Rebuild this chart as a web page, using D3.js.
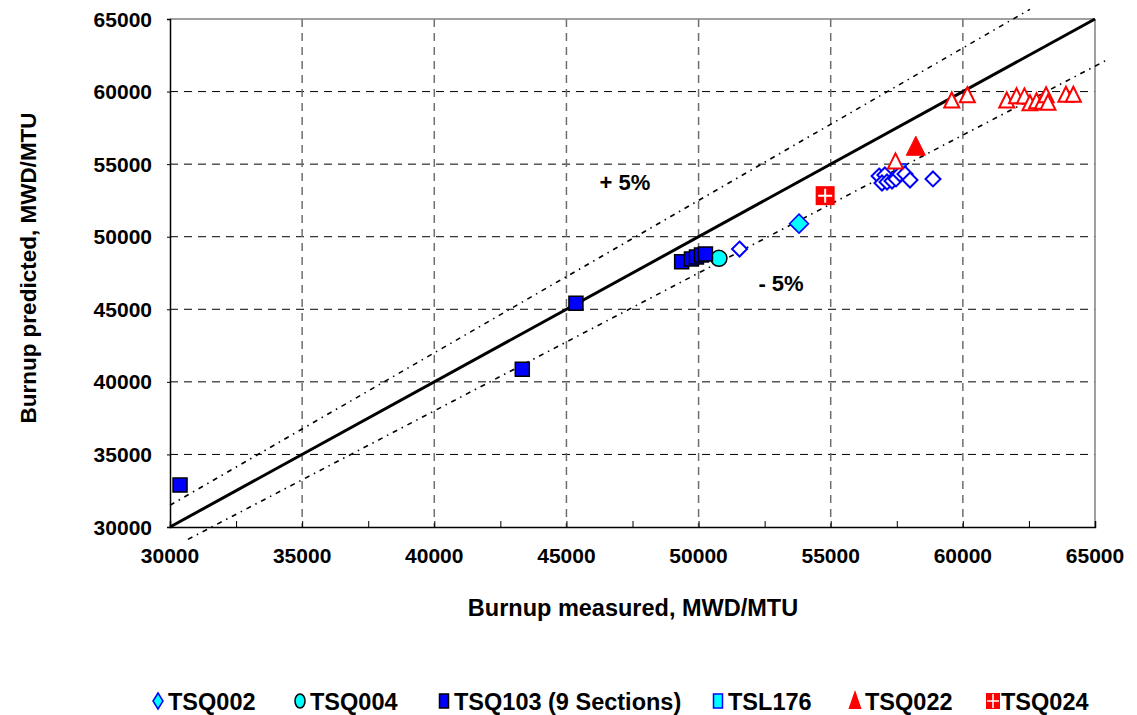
<!DOCTYPE html>
<html>
<head>
<meta charset="utf-8">
<script src="https://cdn.jsdelivr.net/npm/d3@7"></script>
<style>
  body { margin: 0; background: #fff; }
  text { font-family: "Liberation Sans", Arial, sans-serif; font-weight: bold; fill: #000; }
</style>
</head>
<body>
<svg id="chart" width="1137" height="715"></svg>
<script>
// Axis ticks (MWD/MTU)
const xTicks = [30000, 35000, 40000, 45000, 50000, 55000, 60000, 65000];
const yTicks = [30000, 35000, 40000, 45000, 50000, 55000, 60000, 65000];
const xMinorTicks = [32500, 37500, 42500, 47500, 52500, 57500, 62500];

// Measured vs predicted burnup, [measured, predicted]
const tsq002 = [[53800, 50900]];
const tsq002Hollow = [
  [51550, 49150], [56830, 54180], [57050, 54250], [56940, 53700], [57130, 53770],
  [57320, 53840], [57470, 53980], [57620, 54320], [57810, 54320], [58000, 53910],
  [58870, 53980]
];
const tsq004 = [[50770, 48510]];
const tsq103 = [
  [30380, 32890], [43330, 40870], [45360, 45410], [49360, 48280], [49730, 48470],
  [49920, 48600], [50110, 48740], [50260, 48810]
];
const tsl176 = [[57620, 54600]];
const tsq022 = [[58220, 56200]];
const tsq022Hollow = [
  [57450, 55170], [59580, 59370], [60170, 59730], [61660, 59370], [62030, 59660],
  [62330, 59650], [62540, 59180], [62790, 59320], [63010, 59280], [63150, 59730],
  [63220, 59210], [63900, 59760], [64180, 59760]
];
const tsq024 = [[54790, 52830]];

// Deviation bands around the 1:1 line
const bandPlus = { from: 30000, to: 62540, ratio: 1.05 };
const bandMinus = { from: 30680, to: 65450, ratio: 0.95 };

const legendNames = ["TSQ002", "TSQ004", "TSQ103 (9 Sections)", "TSL176", "TSQ022", "TSQ024"];

const svg = d3.select("#chart");
const plotL = 170, plotR = 1095, plotT = 19, plotB = 527;
const x = d3.scaleLinear().domain([30000, 65000]).range([plotL, plotR]);
const y = d3.scaleLinear().domain([30000, 65000]).range([plotB, plotT]);

// gridlines
svg.append("g").selectAll("line").data(yTicks.slice(1, -1)).join("line")
  .attr("x1", plotL).attr("x2", plotR).attr("y1", d => y(d)).attr("y2", d => y(d))
  .attr("stroke", "#000").attr("stroke-width", 1).attr("stroke-dasharray", "8,6");
svg.append("g").selectAll("line").data(xTicks.slice(1, -1)).join("line")
  .attr("y1", plotT).attr("y2", plotB).attr("x1", d => x(d)).attr("x2", d => x(d))
  .attr("stroke", "#6e6e6e").attr("stroke-width", 1.5).attr("stroke-dasharray", "8,6");

// frame: gray top/right, black axes
svg.append("line").attr("x1", plotL).attr("x2", plotR).attr("y1", plotT).attr("y2", plotT)
  .attr("stroke", "#808080").attr("stroke-width", 1.5);
svg.append("line").attr("x1", plotR).attr("x2", plotR).attr("y1", plotT).attr("y2", plotB)
  .attr("stroke", "#808080").attr("stroke-width", 1.5);

const xAxis = svg.append("g").attr("transform", `translate(0,${plotB})`)
  .call(d3.axisBottom(x).tickValues(xTicks.concat(xMinorTicks)).tickSize(-6).tickFormat(""));
xAxis.select(".domain").attr("stroke", "#000").attr("stroke-width", 1.5);
xAxis.selectAll(".tick line").attr("stroke", "#000");
const yAxis = svg.append("g").attr("transform", `translate(${plotL},0)`)
  .call(d3.axisLeft(y).tickValues(yTicks).tickSize(3).tickFormat(""));
yAxis.select(".domain").attr("stroke", "#000").attr("stroke-width", 1.5);
yAxis.selectAll(".tick line").attr("stroke", "#000");

// tick labels
svg.append("g").selectAll("text").data(xTicks).join("text")
  .attr("x", d => x(d)).attr("y", 563).attr("text-anchor", "middle")
  .style("font-size", "21px").text(d => d);
svg.append("g").selectAll("text").data(yTicks).join("text")
  .attr("x", 152).attr("y", d => y(d) + 7.5).attr("text-anchor", "end")
  .style("font-size", "21px").text(d => d);

// axis titles
svg.append("text").attr("x", 633).attr("y", 616).attr("text-anchor", "middle")
  .style("font-size", "23.5px").text("Burnup measured, MWD/MTU");
svg.append("text").attr("transform", "translate(36,268) rotate(-90)").attr("text-anchor", "middle")
  .style("font-size", "22.5px").text("Burnup predicted, MWD/MTU");

// 1:1 line and ±5% bands
svg.append("line").attr("x1", x(30000)).attr("y1", y(30000)).attr("x2", x(65000)).attr("y2", y(65000))
  .attr("stroke", "#000").attr("stroke-width", 3);
[bandPlus, bandMinus].forEach(b => {
  svg.append("line")
    .attr("x1", x(b.from)).attr("y1", y(b.from * b.ratio))
    .attr("x2", x(b.to)).attr("y2", y(b.to * b.ratio))
    .attr("stroke", "#000").attr("stroke-width", 1.6).attr("stroke-dasharray", "5,5,1.5,5");
});
svg.append("text").attr("x", 625).attr("y", 190).attr("text-anchor", "middle")
  .style("font-size", "22px").text("+ 5%");
svg.append("text").attr("x", 781).attr("y", 291).attr("text-anchor", "middle")
  .style("font-size", "22px").text("- 5%");

// marker shapes
const diamond = (r, ry) => `M0,${-(ry||r)}L${r},0L0,${ry||r}L${-r},0Z`;
const square = (w, h) => `M${-w/2},${-(h||w)/2}h${w}v${h||w}h${-w}Z`;
const triangle = (w, h) => `M0,${-h*0.55}L${w/2},${h*0.45}L${-w/2},${h*0.45}Z`;
const circle = (r, ry) => `M${-r},0A${r},${ry||r} 0 1,0 ${r},0A${r},${ry||r} 0 1,0 ${-r},0Z`;

function plot(data, path, fill, stroke, sw) {
  svg.append("g").selectAll("path").data(data).join("path")
    .attr("transform", d => `translate(${x(d[0])},${y(d[1])})`)
    .attr("d", path).attr("fill", fill).attr("stroke", stroke).attr("stroke-width", sw);
}

plot(tsl176, square(12), "#00ffff", "#0000ff", 1.5);
plot(tsq002Hollow, diamond(7.5), "#fff", "#0000ff", 2);
plot(tsq002, diamond(9.5), "#00ffff", "#0000ff", 1.5);
plot(tsq004, circle(8), "#00ffff", "#000", 1.5);
plot(tsq103, square(14), "#0000ff", "#000", 1.5);
plot(tsq022Hollow, triangle(15, 15), "#fff", "#ff0000", 2);
plot(tsq022, triangle(19, 19), "#ff0000", "#ff0000", 1);
const g24 = svg.append("g").selectAll("g").data(tsq024).join("g")
  .attr("transform", d => `translate(${x(d[0])},${y(d[1])})`);
g24.append("path").attr("d", square(19)).attr("fill", "#ff0000");
g24.append("path").attr("d", "M-7,0H7M0,-7V7").attr("stroke", "#fff").attr("stroke-width", 2);

// legend
const legendX = [158, 300, 444, 718, 855, 993];
const legendMarks = [
  { d: diamond(5, 8), fill: "#00ffff", stroke: "#0000ff" },
  { d: circle(5, 7), fill: "#00ffff", stroke: "#000" },
  { d: square(9, 14), fill: "#0000ff", stroke: "#000" },
  { d: square(9, 14), fill: "#00ffff", stroke: "#0000ff" },
  { d: triangle(11, 16), fill: "#ff0000", stroke: "#ff0000" },
  { d: square(14, 16), fill: "#ff0000", stroke: "none" }
];
const lg = svg.append("g").selectAll("g").data(legendNames).join("g")
  .attr("transform", (d, i) => `translate(${legendX[i]},701)`);
lg.append("path").attr("d", (d, i) => legendMarks[i].d)
  .attr("fill", (d, i) => legendMarks[i].fill).attr("stroke", (d, i) => legendMarks[i].stroke)
  .attr("stroke-width", 1.5);
lg.filter((d, i) => i === 5).append("path").attr("d", "M-6,0H6M0,-7V7")
  .attr("stroke", "#fff").attr("stroke-width", 1.5);
lg.append("text").attr("x", (d, i) => i === 5 ? 8 : 10).attr("y", 8.5)
  .style("font-size", "23.5px").text(d => d);
</script>
</body>
</html>
